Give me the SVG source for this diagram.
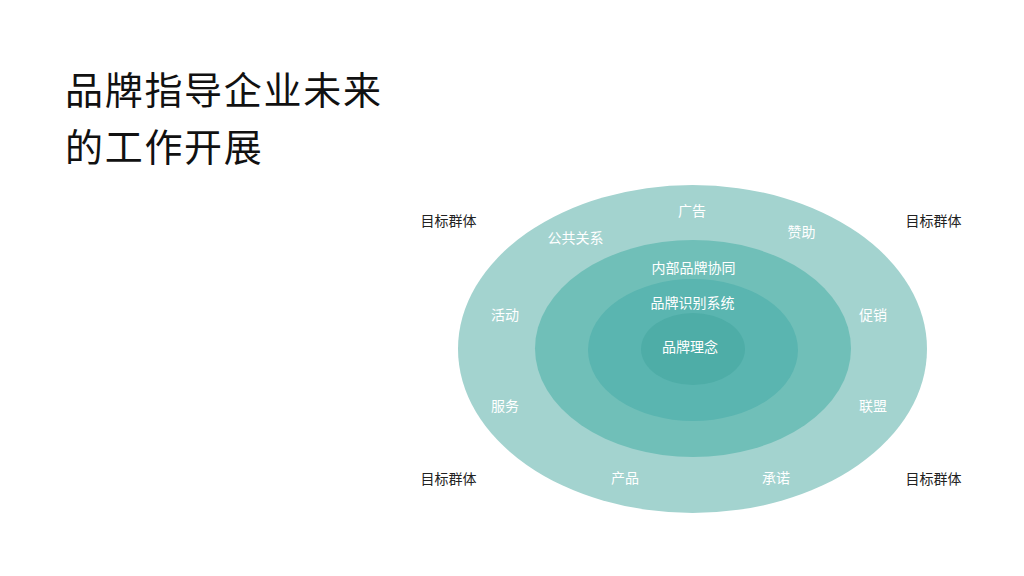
<svg xmlns="http://www.w3.org/2000/svg" width="1024" height="576" viewBox="0 0 1024 576">
<style>
text{font-family:"Noto Sans CJK SC","Noto Sans",sans-serif}
.t{font-size:38px;fill:#111;letter-spacing:1.7px}
.l{font-size:14px;text-anchor:middle;dominant-baseline:central}
.w{fill:#fff}
.d{fill:#222}
</style>
<rect width="1024" height="576" fill="#fff"/>
<g id="title">
<text class="t" x="65" y="104">品牌指导企业未来</text>
<text class="t" x="65" y="161">的工作开展</text>
</g>
<g id="ring-outer"><ellipse cx="692.5" cy="349" rx="234.5" ry="164" fill="#A3D3CF"/></g>
<g id="ring-2"><ellipse cx="693" cy="348.5" rx="158" ry="108.5" fill="#70BFB8"/></g>
<g id="ring-3"><ellipse cx="693" cy="350" rx="105" ry="71" fill="#5AB5B0"/></g>
<g id="ring-core"><ellipse cx="693" cy="349" rx="52" ry="36" fill="#4EADA7"/></g>
<g id="labels">
<text class="l w" x="692" y="210">广告</text>
<text class="l w" x="575.5" y="237">公共关系</text>
<text class="l w" x="801.5" y="231">赞助</text>
<text class="l w" x="505" y="314">活动</text>
<text class="l w" x="873" y="314">促销</text>
<text class="l w" x="505" y="405">服务</text>
<text class="l w" x="873" y="405">联盟</text>
<text class="l w" x="625" y="477">产品</text>
<text class="l w" x="776" y="477">承诺</text>
<text class="l w" x="693.5" y="267">内部品牌协同</text>
<text class="l w" x="692.5" y="302">品牌识别系统</text>
<text class="l w" x="690" y="346">品牌理念</text>
</g>
<g id="targets">
<text class="l d" x="448.5" y="220">目标群体</text>
<text class="l d" x="933.5" y="220">目标群体</text>
<text class="l d" x="448.5" y="478">目标群体</text>
<text class="l d" x="933.5" y="478">目标群体</text>
</g>
<g id="connectors"></g>
</svg>
